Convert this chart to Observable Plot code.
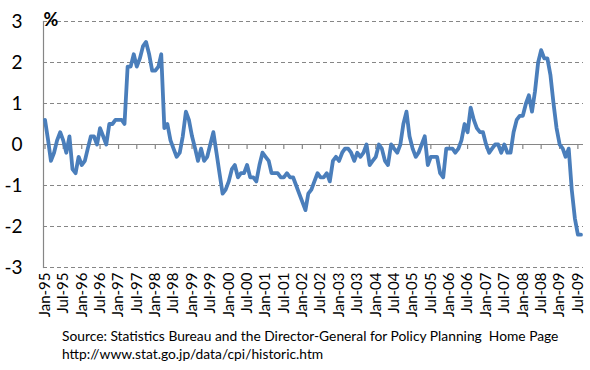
<!DOCTYPE html>
<html>
<head>
<meta charset="utf-8">
<script src="https://cdn.jsdelivr.net/npm/d3@7"></script>
<script src="https://cdn.jsdelivr.net/npm/@observablehq/plot@0.6"></script>
<style>
  body { margin: 0; background: #fff; font-family: Lato, sans-serif; }
  #chart svg { display: block; }
  #caption { margin: -3px 0 0 62px; font-size: 13.8px; line-height: 18px; color: #000; white-space: pre; }
</style>
</head>
<body>
<div id="chart"></div>
<div id="caption"></div>
<script>
// Year-on-year change of consumer price index (%), monthly, Jan-95 .. Aug-09
const startMonth = "1995-01-01";
const cpi1995 = [0.6, 0.1, -0.4, -0.2, 0.1, 0.3, 0.1, -0.2, 0.2, -0.6, -0.7, -0.3];
const cpi1996 = [-0.5, -0.4, -0.1, 0.2, 0.2, 0.0, 0.4, 0.2, 0.0, 0.5, 0.5, 0.6];
const cpi1997 = [0.6, 0.6, 0.5, 1.9, 1.9, 2.2, 1.9, 2.1, 2.4, 2.5, 2.2, 1.8];
const cpi1998 = [1.8, 1.9, 2.2, 0.4, 0.5, 0.1, -0.1, -0.3, -0.2, 0.2, 0.8, 0.6];
const cpi1999 = [0.2, -0.1, -0.4, -0.1, -0.4, -0.3, 0.0, 0.3, -0.2, -0.7, -1.2, -1.1];
const cpi2000 = [-0.9, -0.6, -0.5, -0.8, -0.7, -0.7, -0.5, -0.8, -0.8, -0.9, -0.5, -0.2];
const cpi2001 = [-0.3, -0.4, -0.7, -0.7, -0.7, -0.8, -0.8, -0.7, -0.8, -0.8, -1.0, -1.2];
const cpi2002 = [-1.4, -1.6, -1.2, -1.1, -0.9, -0.7, -0.8, -0.8, -0.7, -0.9, -0.4, -0.3];
const cpi2003 = [-0.4, -0.2, -0.1, -0.1, -0.2, -0.4, -0.2, -0.3, -0.2, 0.0, -0.5, -0.4];
const cpi2004 = [-0.3, 0.0, -0.1, -0.4, -0.5, 0.0, -0.1, -0.2, 0.0, 0.5, 0.8, 0.2];
const cpi2005 = [-0.1, -0.3, -0.2, 0.0, 0.2, -0.5, -0.3, -0.3, -0.3, -0.7, -0.8, -0.1];
const cpi2006 = [-0.1, -0.1, -0.2, -0.1, 0.1, 0.5, 0.3, 0.9, 0.6, 0.4, 0.3, 0.3];
const cpi2007 = [0.0, -0.2, -0.1, 0.0, 0.0, -0.2, 0.0, -0.2, -0.2, 0.3, 0.6, 0.7];
const cpi2008 = [0.7, 1.0, 1.2, 0.8, 1.3, 2.0, 2.3, 2.1, 2.1, 1.7, 1.0, 0.4];
const cpi2009 = [0.0, -0.1, -0.3, -0.1, -1.1, -1.8, -2.2, -2.2];

const yTicks = [-3, -2, -1, 0, 1, 2, 3];
const xTickMonths = ["1995-01","1995-07","1996-01","1996-07","1997-01","1997-07","1998-01","1998-07",
  "1999-01","1999-07","2000-01","2000-07","2001-01","2001-07","2002-01","2002-07","2003-01","2003-07",
  "2004-01","2004-07","2005-01","2005-07","2006-01","2006-07","2007-01","2007-07","2008-01","2008-07",
  "2009-01","2009-07"];
const yUnit = "%";
const captionLines = [
  "Source: Statistics Bureau and the Director-General for Policy Planning  Home Page",
  "http://www.stat.go.jp/data/cpi/historic.htm"
];

const values = [].concat(cpi1995, cpi1996, cpi1997, cpi1998, cpi1999, cpi2000, cpi2001, cpi2002,
  cpi2003, cpi2004, cpi2005, cpi2006, cpi2007, cpi2008, cpi2009);
const start = new Date(startMonth + "T00:00:00Z");
const data = values.map((v, i) => ({date: d3.utcMonth.offset(start, i), value: v}));
const tickDates = xTickMonths.map(s => new Date(s + "-01T00:00:00Z"));
const fmt = d3.utcFormat("%b-%y");
const grey = "#868686";

const chart = Plot.plot({
  width: 590,
  height: 330,
  marginTop: 21,
  marginBottom: 63,
  marginLeft: 43,
  marginRight: 7,
  style: {fontFamily: "Lato, sans-serif", background: "#fff", color: "#000", overflow: "visible"},
  x: {type: "utc", domain: [start, data[data.length - 1].date], range: [44.5, 580.5]},
  y: {domain: [-3, 3]},
  marks: [
    Plot.ruleY(yTicks.filter(d => d !== 0), {stroke: grey, strokeWidth: 1, strokeDasharray: "4,3"}),
    Plot.ruleY([0], {stroke: grey, strokeWidth: 1.2}),
    Plot.ruleX(tickDates, {x: d => d, y1: 0, y2: 0, insetBottom: -5, stroke: grey, strokeWidth: 1.2}),
    Plot.frame({anchor: "left", stroke: grey, strokeWidth: 1.2}),
    Plot.axisY({ticks: yTicks, tickSize: 0, tickPadding: 21, fontSize: 19, tickFormat: d => String(d), label: null}),
    Plot.axisX({ticks: tickDates, tickFormat: fmt, tickRotate: -90, tickSize: 0, tickPadding: 5, fontSize: 15, label: null}),
    Plot.text([yUnit], {frameAnchor: "top-left", text: d => d, textAnchor: "start", lineAnchor: "bottom", dy: 4, fontSize: 18, fontWeight: "bold"}),
    Plot.line(data, {x: "date", y: "value", stroke: "#4a7ebb", strokeWidth: 3.8, strokeLinejoin: "round", strokeLinecap: "round"})
  ]
});
document.getElementById("chart").append(chart);
document.getElementById("caption").textContent = captionLines.join("\n");
</script>
</body>
</html>
